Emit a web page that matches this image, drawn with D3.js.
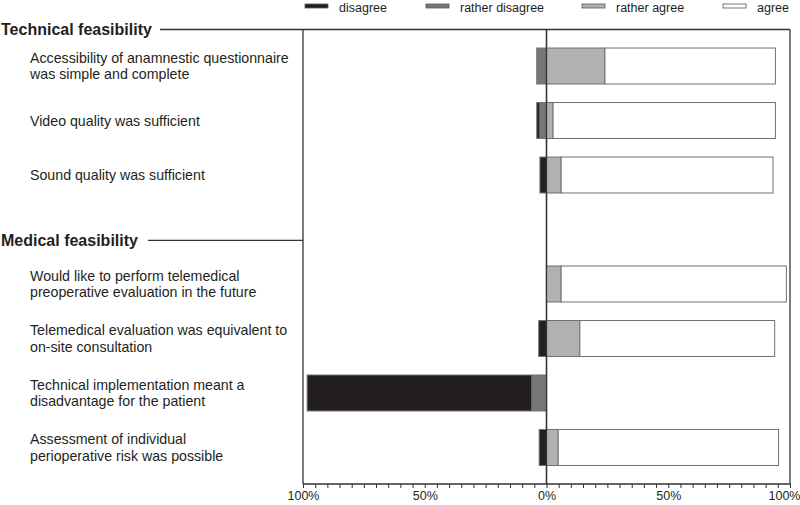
<!DOCTYPE html>
<html>
<head>
<meta charset="utf-8">
<script src="https://cdn.jsdelivr.net/npm/d3@7"></script>
<style>
body { margin: 0; background: #fff; }
text { font-family: "Liberation Sans", Arial, sans-serif; fill: #231f20; }
</style>
</head>
<body>
<div id="chart-area"></div>
<script>
var width = 800, height = 505;

// data (percent)
var questions = [
  ["Accessibility of anamnestic questionnaire", "was simple and complete"],
  ["Video quality was sufficient"],
  ["Sound quality was sufficient"],
  ["Would like to perform telemedical", "preoperative evaluation in the future"],
  ["Telemedical evaluation was equivalent to", "on-site consultation"],
  ["Technical implementation meant a", "disadvantage for the patient"],
  ["Assessment of individual", "perioperative risk was possible"]
];
var rowSlot = [0, 1, 2, 4, 5, 6, 7];
var disagree       = [0,   1.3, 2.7, 0,   3.2, 92.3, 3];
var ratherDisagree = [4,   2.7, 0,   0,   0,   6,    0];
var ratherAgree    = [24,  2.7, 6,   6,   13.7, 0,   4.8];
var agree          = [70,  91.3, 87, 92.5, 80,  0,   90.5];

var groups = ["Technical feasibility", "Medical feasibility"];
var groupSlot = [-1, 3];

var categories = ["disagree", "rather disagree", "rather agree", "agree"];
var colors = ["#231f20", "#77777a", "#b0b1b3", "#ffffff"];
var ticks = [-100, -50, 0, 50, 100];

var svg = d3.select("#chart-area").append("svg")
  .attr("width", width)
  .attr("height", height);

var x = d3.scaleLinear().domain([-100, 100]).range([303, 790]);
var y = d3.scaleBand().domain(d3.range(8)).range([29.5, 484]).padding(0.34);

var lineColor = "#333";

// frame
svg.append("line")
  .attr("x1", 160).attr("x2", x(100))
  .attr("y1", y.range()[0]).attr("y2", y.range()[0])
  .attr("stroke", lineColor).attr("stroke-width", 1.3);

[-100, 0, 100].forEach(function(v){
  svg.append("line")
    .attr("x1", x(v)).attr("x2", x(v))
    .attr("y1", y.range()[0]).attr("y2", y.range()[1])
    .attr("stroke", lineColor).attr("stroke-width", 1.3);
});

// group headers
svg.append("text")
  .attr("x", 1).attr("y", 35)
  .attr("font-size", 16).attr("font-weight", "bold")
  .text(groups[0]);

var medY = y(groupSlot[1]) + y.bandwidth() * 0.8;
svg.append("line")
  .attr("x1", 148).attr("x2", x(-100))
  .attr("y1", medY).attr("y2", medY)
  .attr("stroke", lineColor).attr("stroke-width", 1.3);
svg.append("text")
  .attr("x", 1).attr("y", medY + 5.5)
  .attr("font-size", 16).attr("font-weight", "bold")
  .text(groups[1]);

// bars
var rows = questions.map(function(q, i){
  var segs = [];
  var left = -(disagree[i] + ratherDisagree[i]);
  segs.push({x0: left, x1: left + disagree[i], c: 0});
  segs.push({x0: -ratherDisagree[i], x1: 0, c: 1});
  segs.push({x0: 0, x1: ratherAgree[i], c: 2});
  segs.push({x0: ratherAgree[i], x1: ratherAgree[i] + agree[i], c: 3});
  return {label: q, slot: rowSlot[i], segs: segs.filter(function(s){ return s.x1 > s.x0; })};
});

var row = svg.selectAll(".row").data(rows).enter().append("g").attr("class", "row");

row.selectAll("rect")
  .data(function(d){ return d.segs.map(function(s){ s.slot = d.slot; return s; }); })
  .enter().append("rect")
  .attr("x", function(d){ return x(d.x0); })
  .attr("width", function(d){ return x(d.x1) - x(d.x0); })
  .attr("y", function(d){ return y(d.slot); })
  .attr("height", y.bandwidth())
  .attr("fill", function(d){ return colors[d.c]; })
  .attr("stroke", "#707070")
  .attr("stroke-width", 1);

row.append("text")
  .attr("x", 30)
  .attr("font-size", 14.2)
  .each(function(d){
    var t = d3.select(this);
    var cy = y(d.slot) + y.bandwidth() / 2;
    var n = d.label.length;
    d.label.forEach(function(line, k){
      t.append("tspan")
        .attr("x", 30)
        .attr("y", cy + 5 + (k - (n - 1) / 2) * 16.5)
        .text(line);
    });
  });

// redraw the centre line on top of bars
svg.append("line")
  .attr("x1", x(0)).attr("x2", x(0))
  .attr("y1", y.range()[0]).attr("y2", y.range()[1])
  .attr("stroke", lineColor).attr("stroke-width", 1.3);

// axis
var axis = d3.axisBottom(x)
  .tickValues(d3.range(-100, 101, 5))
  .tickSize(4)
  .tickFormat(function(d){ return ticks.indexOf(d) >= 0 ? Math.abs(d) + "%" : ""; });

var ax = svg.append("g")
  .attr("transform", "translate(0," + y.range()[1] + ")")
  .call(axis);
ax.select(".domain").attr("stroke", lineColor).attr("stroke-width", 1.3).attr("d", "M" + x(-100) + ",0H" + x(100));
ax.selectAll(".tick line").attr("stroke", lineColor);
ax.selectAll(".tick text")
  .attr("font-family", "Liberation Sans, Arial, sans-serif")
  .attr("font-size", 12.5).attr("fill", "#231f20").attr("dy", "0.7em");
ax.selectAll(".tick text").filter(function(d){ return d === 100; })
  .attr("text-anchor", "end").attr("x", 10);

// legend
var legendX = [305, 426, 582, 723];
var lg = svg.selectAll(".legend").data(categories).enter().append("g")
  .attr("class", "legend")
  .attr("transform", function(d, i){ return "translate(" + legendX[i] + ",4)"; });
lg.append("rect")
  .attr("width", 23).attr("height", 4)
  .attr("fill", function(d, i){ return colors[i]; })
  .attr("stroke", "#555").attr("stroke-width", 0.8);
lg.append("text")
  .attr("x", 34).attr("y", 7.5)
  .attr("font-size", 12.5)
  .text(function(d){ return d; });
</script>
</body>
</html>
